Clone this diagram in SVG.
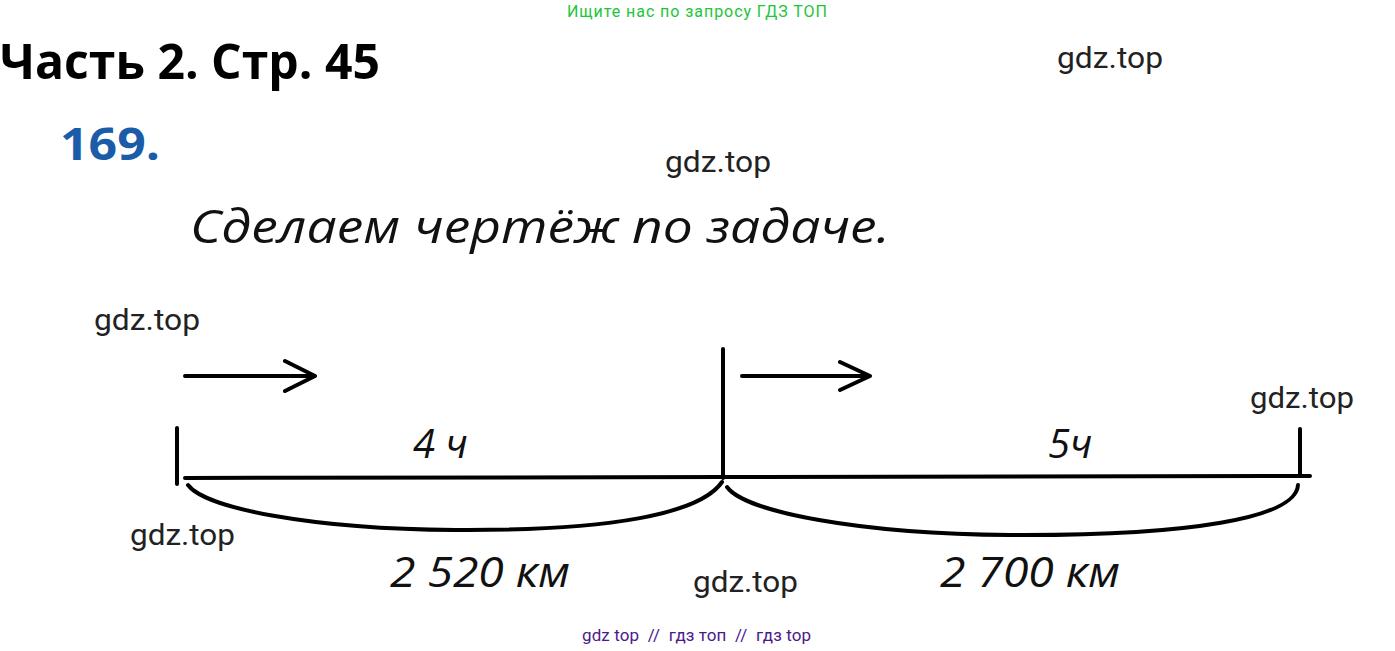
<svg xmlns="http://www.w3.org/2000/svg" width="1395" height="651" viewBox="0 0 1395 651">
<style>
.wm{font-family:Roboto,"Liberation Sans",sans-serif;font-size:29px;fill:#222}
.hand{font-family:"Open Sans","Liberation Sans",sans-serif;font-style:italic;fill:#111}
.ln{stroke:#000;stroke-width:4;fill:none;stroke-linecap:round;stroke-linejoin:round}
</style>
<rect width="1395" height="651" fill="#fff"/>
<g id="header">
<text x="697" y="17" text-anchor="middle" font-family="Roboto,'Liberation Sans',sans-serif" font-size="16" fill="#22c43a" textLength="260">Ищите нас по запросу ГДЗ ТОП</text>
<text x="0" y="79" font-family="'Open Sans','Liberation Sans',sans-serif" font-weight="bold" font-size="48" fill="#000" textLength="380" lengthAdjust="spacingAndGlyphs">Часть 2. Стр. 45</text>
<text x="60" y="160" font-family="'Open Sans','Liberation Sans',sans-serif" font-weight="bold" font-size="45" fill="#1a5ca8" textLength="100" lengthAdjust="spacingAndGlyphs">169.</text>
<text class="hand" x="190" y="243" font-size="46" textLength="700" lengthAdjust="spacingAndGlyphs">Сделаем чертёж по задаче.</text>
</g>
<g id="watermarks">
<text class="wm" x="1057" y="68" textLength="106" lengthAdjust="spacingAndGlyphs">gdz.top</text>
<text class="wm" x="665" y="172" textLength="106" lengthAdjust="spacingAndGlyphs">gdz.top</text>
<text class="wm" x="94" y="330" textLength="106" lengthAdjust="spacingAndGlyphs">gdz.top</text>
<text class="wm" x="1250" y="408" textLength="104" lengthAdjust="spacingAndGlyphs">gdz.top</text>
<text class="wm" x="130" y="545" textLength="105" lengthAdjust="spacingAndGlyphs">gdz.top</text>
<text class="wm" x="693" y="592" textLength="105" lengthAdjust="spacingAndGlyphs">gdz.top</text>
</g>
<g id="connectors">
<path class="ln" d="M185 376 H315 M285 361 L315 376 L285 391"/>
<path class="ln" d="M742 376 H870 M840 362 L870 376 L840 390"/>
<path class="ln" d="M177 428 V484"/>
<path class="ln" d="M185 478 L723 477 L1310 476"/>
<path class="ln" d="M723 349 V478"/>
<path class="ln" d="M1300 429 V476"/>
<path class="ln" d="M188 485 C205 508 310 529 455 530 C610 531 700 514 722 482"/>
<path class="ln" d="M727 487 C745 512 860 534 1010 535 C1190 536 1296 518 1298 485"/>
</g>
<g id="labels">
<text class="hand" x="413" y="458" font-size="40">4 ч</text>
<text class="hand" x="1048" y="458" font-size="40">5ч</text>
<text class="hand" x="390" y="587" font-size="42" textLength="180" lengthAdjust="spacingAndGlyphs">2 520 км</text>
<text class="hand" x="940" y="587" font-size="42" textLength="180" lengthAdjust="spacingAndGlyphs">2 700 км</text>
</g>
<g id="footer">
<text x="582" y="641" font-family="Roboto,'Liberation Sans',sans-serif" font-size="17" fill="#4a1a8c" xml:space="preserve" textLength="229">gdz top  //  гдз топ  //  гдз top</text>
</g>
</svg>
